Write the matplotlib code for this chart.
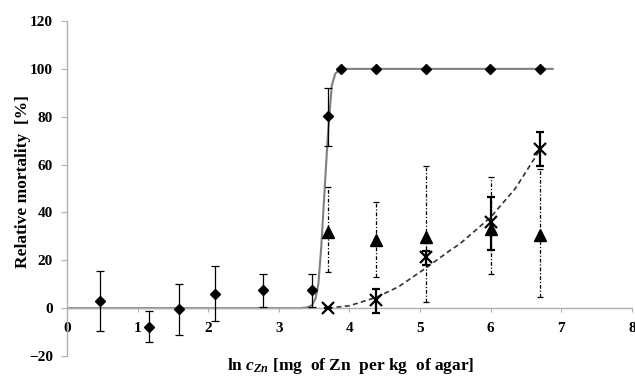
import matplotlib.pyplot as plt
import numpy as np

plt.rcParams['font.family'] = ['Liberation Serif', 'DejaVu Serif']
plt.rcParams['mathtext.fontset'] = 'custom'
plt.rcParams['mathtext.rm'] = 'Liberation Serif:bold'
plt.rcParams['mathtext.it'] = 'Liberation Serif:italic:bold'
plt.rcParams['mathtext.bf'] = 'Liberation Serif:bold'

# diamonds: zinc, mortality with error bar limits
d_x = [0.47, 1.16, 1.59, 2.09, 2.78, 3.47, 3.70, 3.88, 4.38, 5.08, 5.99, 6.70]
d_y = [2.9, -7.8, -0.5, 6.1, 7.5, 7.5, 80.1, 100, 100, 100, 100, 100]
d_hi = [15.4, -1.3, 9.9, 17.6, 14.4, 14.4, 92.2, 100, 100, 100, 100, 100]
d_lo = [-9.4, -14.3, -11.2, -5.3, 0.5, 0.5, 67.9, 100, 100, 100, 100, 100]

# triangles
t_x = [3.70, 4.38, 5.08, 6.00, 6.70]
t_y = [31.8, 28.6, 29.7, 33.2, 30.4]
t_hi = [50.5, 44.3, 59.6, 54.7, 58.0]
t_lo = [15.1, 13.0, 2.6, 14.4, 4.7]

# crosses
c_x = [3.70, 4.38, 5.08, 6.00, 6.70]
c_y = [0.0, 3.6, 21.4, 36.0, 66.5]
c_hi = [0.0, 8.2, 23.8, 46.4, 73.5]
c_lo = [0.0, -2.0, 17.9, 24.2, 59.6]

# fitted curves
fit1_x = [0, 3.30, 3.40, 3.47, 3.52, 3.56, 3.60, 3.654, 3.69, 3.715, 3.75, 3.80, 3.85, 3.95, 6.88]
fit1_y = [0, 0, 0.3, 1.2, 4, 10, 25, 52, 70, 80, 93, 98, 99.5, 100, 100]
fit2_x = [3.70, 4.00, 4.38, 4.70, 5.07, 5.42, 5.57, 6.00, 6.35, 6.63, 6.70]
fit2_y = [0, 1, 4.5, 9, 16.5, 24, 27, 38, 50, 63, 66]

fig = plt.figure(figsize=(6.35, 3.78), dpi=100)
ax = fig.add_axes([0.1055, 0.0582, 0.8895, 0.8862])

def yerr(y, lo, hi):
    y, lo, hi = np.array(y), np.array(lo), np.array(hi)
    return [y - lo, hi - y]

ax.plot(fit1_x, fit1_y, color='#808080', lw=1.5, zorder=2)
ax.plot(fit2_x, fit2_y, color='#333333', lw=1.2, ls=(0, (3, 2)), zorder=2)

ax.errorbar(d_x, d_y, yerr=yerr(d_y, d_lo, d_hi), fmt='D', color='black',
            ms=5.5, elinewidth=0.9, capsize=3, capthick=0.9, zorder=4)

eb = ax.errorbar(t_x, t_y, yerr=yerr(t_y, t_lo, t_hi), fmt='^', color='black',
                 ms=8, elinewidth=0.9, capsize=2, capthick=0.9, zorder=4)
eb[2][0].set_linestyle((0, (3, 1.5, 1, 1.5)))

ax.errorbar(c_x, c_y, yerr=yerr(c_y, c_lo, c_hi), fmt='x', color='black',
            ms=9, mew=1.6, elinewidth=1.6, capsize=3, capthick=1.6, zorder=5)

ax.set_xlim(0, 8)
ax.set_ylim(-20, 120)
ax.set_xticks(range(0, 9))
ax.set_yticks(range(-20, 121, 20))
ax.spines['top'].set_visible(False)
ax.spines['right'].set_visible(False)
ax.spines['bottom'].set_position(('data', 0))
for s in ['left', 'bottom']:
    ax.spines[s].set_color('#b0b0b0')
    ax.spines[s].set_linewidth(1.0)
ax.tick_params(axis='y', direction='out', length=4, color='#b0b0b0', pad=6, labelsize=11)
ax.tick_params(axis='x', direction='out', length=3, color='#b0b0b0', pad=7, labelsize=11)
for lab in ax.get_xticklabels() + ax.get_yticklabels():
    lab.set_fontweight('bold')

ax.set_ylabel('Relative mortality  [%]', fontsize=12.5, fontweight='bold')
ax.yaxis.set_label_coords(-0.063, 0.52)
fig.text(0.553, 0.004, r'ln $c_{Zn}$ [mg  of Zn  per kg  of agar]',
         ha='center', va='bottom', fontsize=12.5, fontweight='bold')

fig.savefig('out.png', dpi=100)
